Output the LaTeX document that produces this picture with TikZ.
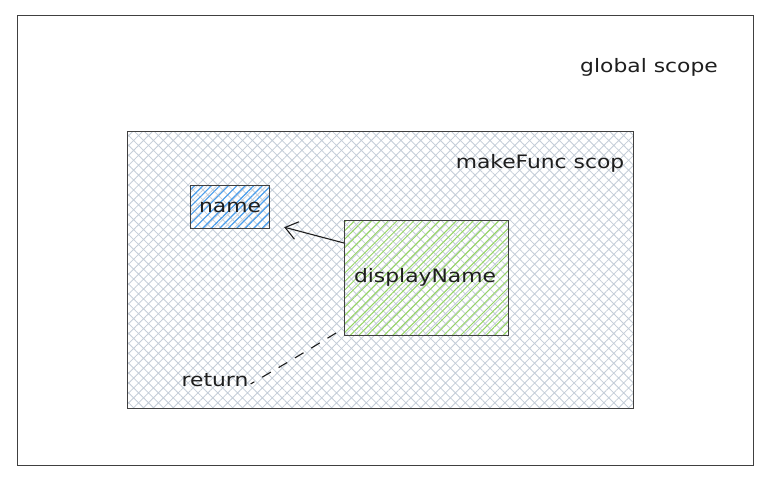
\documentclass[tikz,border=0pt]{standalone}
\usepackage{fontspec}
\setmainfont{DejaVu Sans}[FakeStretch=1.18]
\usetikzlibrary{patterns.meta,arrows.meta}
\definecolor{hatchgrey}{RGB}{196,205,216}
\definecolor{hatchblue}{RGB}{74,158,237}
\definecolor{hatchgreen}{RGB}{150,214,100}
\definecolor{ink}{RGB}{30,30,30}
\tikzset{
  frame/.style={draw=ink!85, line width=1.1pt, anchor=north west, inner sep=0pt},
  label/.style={font=\fontsize{18.5}{22}\selectfont, text=ink, inner sep=0pt},
}
\begin{document}
\begin{tikzpicture}[x=1pt,y=-1pt]
\useasboundingbox[fill=white] (0,0) rectangle (778,482);
\node[frame, minimum width=736pt, minimum height=450pt] (global) at (17,15) {};
\node[frame, minimum width=506pt, minimum height=277pt,
  pattern={Hatch[angle=45,distance=7pt,line width=0.8pt]}, pattern color=hatchgrey] (make) at (127,131) {};
\node[frame, minimum width=79pt, minimum height=43pt,
  pattern={Lines[angle=45,distance=6pt,line width=1.2pt]}, pattern color=hatchblue] (namebox) at (190,185) {};
\node[frame, minimum width=164pt, minimum height=115pt,
  pattern={Lines[angle=45,distance=6pt,line width=1pt]}, pattern color=hatchgreen] (dn) at (344,220) {};
\node[label] (gtext) at (649,67) {global scope};
\node[label] (mtext) at (540,163) {makeFunc scop};
\node[label] (ntext) at (namebox.center) {name};
\node[label] (dtext) at (425,277) {displayName};
\node[label] (rtext) at (215,380) {return};
\coordinate (tip) at ([shift={(14pt,2pt)}]namebox.south east);
\draw[ink, line width=1.1pt, -{Straight Barb[length=12pt,width=18pt]}] (344,243) -- (tip);
\draw[ink, line width=1.1pt, dash pattern=on 10pt off 9pt] ([shift={(-8pt,3pt)}]dn.south west) .. controls (300,355) .. ([shift={(2pt,-4pt)}]rtext.east);
\end{tikzpicture}
\end{document}
